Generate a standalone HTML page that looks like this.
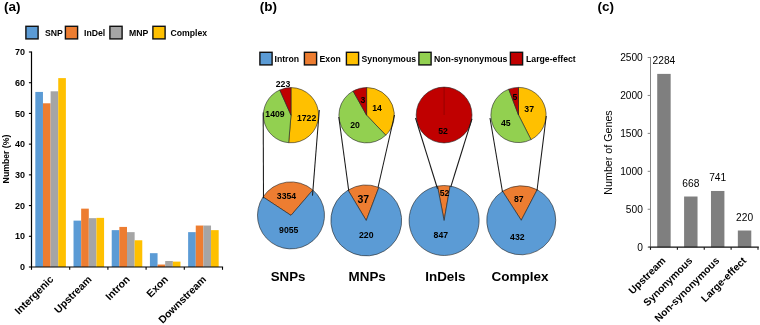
<!DOCTYPE html>
<html><head><meta charset="utf-8"><title>Figure</title>
<style>
html,body{margin:0;padding:0;background:#fff;}
svg{display:block;}
text{font-family:"Liberation Sans",Arial,sans-serif;}
</style></head><body>
<svg width="760" height="325" viewBox="0 0 760 325">
<rect width="760" height="325" fill="#fff"/>
<text x="4" y="10.8" font-size="13.5" font-weight="bold" text-anchor="start" fill="#000">(a)</text>
<rect x="25.9" y="26.3" width="12.2" height="12.6" fill="#5B9BD5" stroke="#111" stroke-width="1.4"/>
<text x="45" y="36.3" font-size="8.7" font-weight="bold" text-anchor="start" fill="#000">SNP</text>
<rect x="65.4" y="26.3" width="12.2" height="12.6" fill="#ED7D31" stroke="#111" stroke-width="1.4"/>
<text x="84" y="36.3" font-size="8.7" font-weight="bold" text-anchor="start" fill="#000">InDel</text>
<rect x="109.9" y="26.3" width="12.2" height="12.6" fill="#A5A5A5" stroke="#111" stroke-width="1.4"/>
<text x="129" y="36.3" font-size="8.7" font-weight="bold" text-anchor="start" fill="#000">MNP</text>
<rect x="152.9" y="26.3" width="12.2" height="12.6" fill="#FFC000" stroke="#111" stroke-width="1.4"/>
<text x="170.5" y="36.3" font-size="8.7" font-weight="bold" text-anchor="start" fill="#000">Complex</text>
<rect x="35.32" y="91.93" width="7.64" height="175.07" fill="#5B9BD5"/>
<rect x="42.96" y="103.29" width="7.64" height="163.71" fill="#ED7D31"/>
<rect x="50.60" y="91.31" width="7.64" height="175.69" fill="#A5A5A5"/>
<rect x="58.24" y="78.11" width="7.64" height="188.89" fill="#FFC000"/>
<rect x="73.52" y="220.62" width="7.64" height="46.38" fill="#5B9BD5"/>
<rect x="81.16" y="208.64" width="7.64" height="58.36" fill="#ED7D31"/>
<rect x="88.80" y="218.16" width="7.64" height="48.84" fill="#A5A5A5"/>
<rect x="96.44" y="217.86" width="7.64" height="49.14" fill="#FFC000"/>
<rect x="111.72" y="230.14" width="7.64" height="36.86" fill="#5B9BD5"/>
<rect x="119.36" y="226.92" width="7.64" height="40.08" fill="#ED7D31"/>
<rect x="127.00" y="232.14" width="7.64" height="34.86" fill="#A5A5A5"/>
<rect x="134.64" y="240.28" width="7.64" height="26.72" fill="#FFC000"/>
<rect x="149.92" y="253.18" width="7.64" height="13.82" fill="#5B9BD5"/>
<rect x="157.56" y="264.54" width="7.64" height="2.46" fill="#ED7D31"/>
<rect x="165.20" y="261.01" width="7.64" height="5.99" fill="#A5A5A5"/>
<rect x="172.84" y="261.62" width="7.64" height="5.38" fill="#FFC000"/>
<rect x="188.12" y="232.14" width="7.64" height="34.86" fill="#5B9BD5"/>
<rect x="195.76" y="225.54" width="7.64" height="41.46" fill="#ED7D31"/>
<rect x="203.40" y="225.54" width="7.64" height="41.46" fill="#A5A5A5"/>
<rect x="211.04" y="230.14" width="7.64" height="36.86" fill="#FFC000"/>
<path d="M31.5 51.5 V267.6 M30.9 267 H223.1" stroke="#000" stroke-width="1.2" fill="none"/>
<path d="M28.9 267.00 H31.5" stroke="#000" stroke-width="1.1"/>
<text x="25" y="270.2" font-size="9" font-weight="bold" text-anchor="end" fill="#000">0</text>
<path d="M28.9 236.29 H31.5" stroke="#000" stroke-width="1.1"/>
<text x="25" y="239.49" font-size="9" font-weight="bold" text-anchor="end" fill="#000">10</text>
<path d="M28.9 205.57 H31.5" stroke="#000" stroke-width="1.1"/>
<text x="25" y="208.77" font-size="9" font-weight="bold" text-anchor="end" fill="#000">20</text>
<path d="M28.9 174.86 H31.5" stroke="#000" stroke-width="1.1"/>
<text x="25" y="178.06" font-size="9" font-weight="bold" text-anchor="end" fill="#000">30</text>
<path d="M28.9 144.14 H31.5" stroke="#000" stroke-width="1.1"/>
<text x="25" y="147.34" font-size="9" font-weight="bold" text-anchor="end" fill="#000">40</text>
<path d="M28.9 113.43 H31.5" stroke="#000" stroke-width="1.1"/>
<text x="25" y="116.63" font-size="9" font-weight="bold" text-anchor="end" fill="#000">50</text>
<path d="M28.9 82.71 H31.5" stroke="#000" stroke-width="1.1"/>
<text x="25" y="85.91" font-size="9" font-weight="bold" text-anchor="end" fill="#000">60</text>
<path d="M28.9 52.00 H31.5" stroke="#000" stroke-width="1.1"/>
<text x="25" y="55.2" font-size="9" font-weight="bold" text-anchor="end" fill="#000">70</text>
<path d="M31.50 267 V269.8" stroke="#000" stroke-width="1.1"/>
<path d="M69.70 267 V269.8" stroke="#000" stroke-width="1.1"/>
<path d="M107.90 267 V269.8" stroke="#000" stroke-width="1.1"/>
<path d="M146.10 267 V269.8" stroke="#000" stroke-width="1.1"/>
<path d="M184.30 267 V269.8" stroke="#000" stroke-width="1.1"/>
<path d="M222.50 267 V269.8" stroke="#000" stroke-width="1.1"/>
<text x="8.5" y="159" font-size="8.7" font-weight="bold" text-anchor="middle" fill="#000" transform="rotate(-90 8.5 159)">Number (%)</text>
<text x="54.1" y="280" font-size="10.4" font-weight="bold" text-anchor="end" fill="#000" transform="rotate(-45 54.1 280)">Intergenic</text>
<text x="92.3" y="280" font-size="10.4" font-weight="bold" text-anchor="end" fill="#000" transform="rotate(-45 92.3 280)">Upstream</text>
<text x="130.5" y="280" font-size="10.4" font-weight="bold" text-anchor="end" fill="#000" transform="rotate(-45 130.5 280)">Intron</text>
<text x="168.7" y="280" font-size="10.4" font-weight="bold" text-anchor="end" fill="#000" transform="rotate(-45 168.7 280)">Exon</text>
<text x="206.9" y="280" font-size="10.4" font-weight="bold" text-anchor="end" fill="#000" transform="rotate(-45 206.9 280)">Downstream</text>
<text x="259.7" y="10.8" font-size="13.5" font-weight="bold" text-anchor="start" fill="#000">(b)</text>
<rect x="259.9" y="52.3" width="12.2" height="12.6" fill="#5B9BD5" stroke="#111" stroke-width="1.4"/>
<text x="274.5" y="62.3" font-size="8.7" font-weight="bold" text-anchor="start" fill="#000">Intron</text>
<rect x="304.4" y="52.3" width="12.2" height="12.6" fill="#ED7D31" stroke="#111" stroke-width="1.4"/>
<text x="319.5" y="62.3" font-size="8.7" font-weight="bold" text-anchor="start" fill="#000">Exon</text>
<rect x="346.4" y="52.3" width="12.2" height="12.6" fill="#FFC000" stroke="#111" stroke-width="1.4"/>
<text x="361.5" y="62.3" font-size="8.7" font-weight="bold" text-anchor="start" fill="#000">Synonymous</text>
<rect x="418.9" y="52.3" width="12.2" height="12.6" fill="#92D050" stroke="#111" stroke-width="1.4"/>
<text x="434" y="62.3" font-size="8.7" font-weight="bold" text-anchor="start" fill="#000">Non-synonymous</text>
<rect x="510.4" y="52.3" width="12.2" height="12.6" fill="#C00000" stroke="#111" stroke-width="1.4"/>
<text x="526" y="62.3" font-size="8.7" font-weight="bold" text-anchor="start" fill="#000">Large-effect</text>
<path d="M291 115.2 L291.00 87.60 A27.6 27.6 0 1 1 288.68 142.70 Z" fill="#FFC000" stroke="#222" stroke-width="0.6" stroke-linejoin="round"/>
<path d="M291 115.2 L288.68 142.70 A27.6 27.6 0 0 1 279.80 89.97 Z" fill="#92D050" stroke="#222" stroke-width="0.6" stroke-linejoin="round"/>
<path d="M291 115.2 L279.80 89.97 A27.6 27.6 0 0 1 291.00 87.60 Z" fill="#C00000" stroke="#222" stroke-width="0.6" stroke-linejoin="round"/>
<path d="M366.6 115.2 L366.60 87.50 A27.7 27.7 0 0 1 385.77 135.20 Z" fill="#FFC000" stroke="#222" stroke-width="0.6" stroke-linejoin="round"/>
<path d="M366.6 115.2 L385.77 135.20 A27.7 27.7 0 1 1 353.09 91.02 Z" fill="#92D050" stroke="#222" stroke-width="0.6" stroke-linejoin="round"/>
<path d="M366.6 115.2 L353.09 91.02 A27.7 27.7 0 0 1 366.60 87.50 Z" fill="#C00000" stroke="#222" stroke-width="0.6" stroke-linejoin="round"/>
<circle cx="444.1" cy="115" r="27.9" fill="#C00000" stroke="#222" stroke-width="0.6"/>
<path d="M444.1 115 L444.10 87.10" stroke="#7a0000" stroke-width="0.6"/>
<path d="M518.5 115 L518.50 87.40 A27.6 27.6 0 0 1 530.99 139.61 Z" fill="#FFC000" stroke="#222" stroke-width="0.6" stroke-linejoin="round"/>
<path d="M518.5 115 L530.99 139.61 A27.6 27.6 0 1 1 508.75 89.18 Z" fill="#92D050" stroke="#222" stroke-width="0.6" stroke-linejoin="round"/>
<path d="M518.5 115 L508.75 89.18 A27.6 27.6 0 0 1 518.50 87.40 Z" fill="#C00000" stroke="#222" stroke-width="0.6" stroke-linejoin="round"/>
<path d="M291 215.4 L263.03 196.96 A33.5 33.5 0 0 1 312.85 190.00 Z" fill="#ED7D31" stroke="#222" stroke-width="0.6" stroke-linejoin="round"/>
<path d="M291 215.4 L312.85 190.00 A33.5 33.5 0 1 1 263.03 196.96 Z" fill="#5B9BD5" stroke="#222" stroke-width="0.6" stroke-linejoin="round"/>
<path d="M366.25 220.5 L348.02 190.16 A35.4 35.4 0 0 1 378.84 187.41 Z" fill="#ED7D31" stroke="#222" stroke-width="0.6" stroke-linejoin="round"/>
<path d="M366.25 220.5 L378.84 187.41 A35.4 35.4 0 1 1 348.02 190.16 Z" fill="#5B9BD5" stroke="#222" stroke-width="0.6" stroke-linejoin="round"/>
<path d="M444.1 220.5 L437.48 186.13 A35 35 0 0 1 450.13 186.02 Z" fill="#ED7D31" stroke="#222" stroke-width="0.6" stroke-linejoin="round"/>
<path d="M444.1 220.5 L450.13 186.02 A35 35 0 1 1 437.48 186.13 Z" fill="#5B9BD5" stroke="#222" stroke-width="0.6" stroke-linejoin="round"/>
<path d="M521.25 220.3 L502.56 191.30 A34.5 34.5 0 0 1 537.21 189.71 Z" fill="#ED7D31" stroke="#222" stroke-width="0.6" stroke-linejoin="round"/>
<path d="M521.25 220.3 L537.21 189.71 A34.5 34.5 0 1 1 502.56 191.30 Z" fill="#5B9BD5" stroke="#222" stroke-width="0.6" stroke-linejoin="round"/>
<path d="M263.2 112.5 L263.5 198.2" stroke="#1a1a1a" stroke-width="1.05"/>
<path d="M319.3 110 L312.5 195.6" stroke="#1a1a1a" stroke-width="1.05"/>
<path d="M338.8 117 L348.75 190.75" stroke="#1a1a1a" stroke-width="1.05"/>
<path d="M394.5 115 L378 187.5" stroke="#1a1a1a" stroke-width="1.05"/>
<path d="M415.5 118 L437.5 188.75" stroke="#1a1a1a" stroke-width="1.05"/>
<path d="M472 118.75 L450.75 187" stroke="#1a1a1a" stroke-width="1.05"/>
<path d="M490 118 L502.5 192" stroke="#1a1a1a" stroke-width="1.05"/>
<path d="M546.25 116 L537 190.5" stroke="#1a1a1a" stroke-width="1.05"/>
<text x="283" y="87.33200000000001" font-size="8.7" font-weight="bold" text-anchor="middle" fill="#000">223</text>
<text x="275" y="116.83200000000001" font-size="8.7" font-weight="bold" text-anchor="middle" fill="#000">1409</text>
<text x="306.6" y="120.53200000000001" font-size="8.7" font-weight="bold" text-anchor="middle" fill="#000">1722</text>
<text x="363" y="103.132" font-size="8.7" font-weight="bold" text-anchor="middle" fill="#000">3</text>
<text x="377" y="111.132" font-size="8.7" font-weight="bold" text-anchor="middle" fill="#000">14</text>
<text x="355" y="128.132" font-size="8.7" font-weight="bold" text-anchor="middle" fill="#000">20</text>
<text x="443" y="134.332" font-size="8.7" font-weight="bold" text-anchor="middle" fill="#000">52</text>
<text x="515" y="100.132" font-size="8.7" font-weight="bold" text-anchor="middle" fill="#000">5</text>
<text x="529.2" y="111.932" font-size="8.7" font-weight="bold" text-anchor="middle" fill="#000">37</text>
<text x="505.8" y="126.132" font-size="8.7" font-weight="bold" text-anchor="middle" fill="#000">45</text>
<text x="286.5" y="198.93200000000002" font-size="8.7" font-weight="bold" text-anchor="middle" fill="#000">3354</text>
<text x="288.75" y="232.632" font-size="8.7" font-weight="bold" text-anchor="middle" fill="#000">9055</text>
<text x="363.3" y="202.58" font-size="10.5" font-weight="bold" text-anchor="middle" fill="#000">37</text>
<text x="366.25" y="238.132" font-size="8.7" font-weight="bold" text-anchor="middle" fill="#000">220</text>
<text x="444.5" y="195.632" font-size="8.7" font-weight="bold" text-anchor="middle" fill="#000">52</text>
<text x="440.8" y="238.43200000000002" font-size="8.7" font-weight="bold" text-anchor="middle" fill="#000">847</text>
<text x="518.8" y="201.632" font-size="8.7" font-weight="bold" text-anchor="middle" fill="#000">87</text>
<text x="517.3" y="239.632" font-size="8.7" font-weight="bold" text-anchor="middle" fill="#000">432</text>
<text x="288.1" y="281.1" font-size="13.3" font-weight="bold" text-anchor="middle" fill="#000">SNPs</text>
<text x="367.2" y="281.1" font-size="13.4" font-weight="bold" text-anchor="middle" fill="#000">MNPs</text>
<text x="445.4" y="281.1" font-size="13.4" font-weight="bold" text-anchor="middle" fill="#000">InDels</text>
<text x="520.1" y="281.1" font-size="13.5" font-weight="bold" text-anchor="middle" fill="#000">Complex</text>
<text x="597.5" y="10.8" font-size="13.5" font-weight="bold" text-anchor="start" fill="#000">(c)</text>
<rect x="657.22" y="73.89" width="13.44" height="173.31" fill="#7F7F7F"/>
<text x="663.94" y="64.09" font-size="10.2" text-anchor="middle" fill="#000">2284</text>
<rect x="684.09" y="196.51" width="13.44" height="50.69" fill="#7F7F7F"/>
<text x="690.81" y="186.71" font-size="10.2" text-anchor="middle" fill="#000">668</text>
<rect x="710.97" y="190.97" width="13.44" height="56.23" fill="#7F7F7F"/>
<text x="717.69" y="181.17" font-size="10.2" text-anchor="middle" fill="#000">741</text>
<rect x="737.84" y="230.51" width="13.44" height="16.69" fill="#7F7F7F"/>
<text x="744.56" y="220.71" font-size="10.2" text-anchor="middle" fill="#000">220</text>
<path d="M650.5 57.0 V247.2" stroke="#868686" stroke-width="1" fill="none"/>
<path d="M648.3 247.2 H758.8" stroke="#111" stroke-width="1.2" fill="none"/>
<path d="M647.7 247.20 H650.5" stroke="#868686" stroke-width="1"/>
<text x="642.8" y="250.8" font-size="10.2" text-anchor="end" fill="#000">0</text>
<path d="M647.7 209.26 H650.5" stroke="#868686" stroke-width="1"/>
<text x="642.8" y="212.86" font-size="10.2" text-anchor="end" fill="#000">500</text>
<path d="M647.7 171.32 H650.5" stroke="#868686" stroke-width="1"/>
<text x="642.8" y="174.92" font-size="10.2" text-anchor="end" fill="#000">1000</text>
<path d="M647.7 133.38 H650.5" stroke="#868686" stroke-width="1"/>
<text x="642.8" y="136.98" font-size="10.2" text-anchor="end" fill="#000">1500</text>
<path d="M647.7 95.44 H650.5" stroke="#868686" stroke-width="1"/>
<text x="642.8" y="99.04" font-size="10.2" text-anchor="end" fill="#000">2000</text>
<path d="M647.7 57.50 H650.5" stroke="#868686" stroke-width="1"/>
<text x="642.8" y="61.1" font-size="10.2" text-anchor="end" fill="#000">2500</text>
<path d="M650.50 247.2 V249.79999999999998" stroke="#111" stroke-width="1.1"/>
<path d="M677.38 247.2 V249.79999999999998" stroke="#111" stroke-width="1.1"/>
<path d="M704.25 247.2 V249.79999999999998" stroke="#111" stroke-width="1.1"/>
<path d="M731.12 247.2 V249.79999999999998" stroke="#111" stroke-width="1.1"/>
<path d="M758.00 247.2 V249.79999999999998" stroke="#111" stroke-width="1.1"/>
<text x="612" y="152.5" font-size="10.7" text-anchor="middle" fill="#000" transform="rotate(-90 612 152.5)">Number of Genes</text>
<text x="666.24" y="261.3" font-size="10.25" font-weight="bold" text-anchor="end" fill="#000" transform="rotate(-45 666.24 261.3)">Upstream</text>
<text x="693.11" y="261.3" font-size="10.25" font-weight="bold" text-anchor="end" fill="#000" transform="rotate(-45 693.11 261.3)">Synonymous</text>
<text x="719.99" y="261.3" font-size="10.25" font-weight="bold" text-anchor="end" fill="#000" transform="rotate(-45 719.99 261.3)">Non-synonymous</text>
<text x="746.86" y="261.3" font-size="10.25" font-weight="bold" text-anchor="end" fill="#000" transform="rotate(-45 746.86 261.3)">Large-effect</text>
</svg>
</body></html>
